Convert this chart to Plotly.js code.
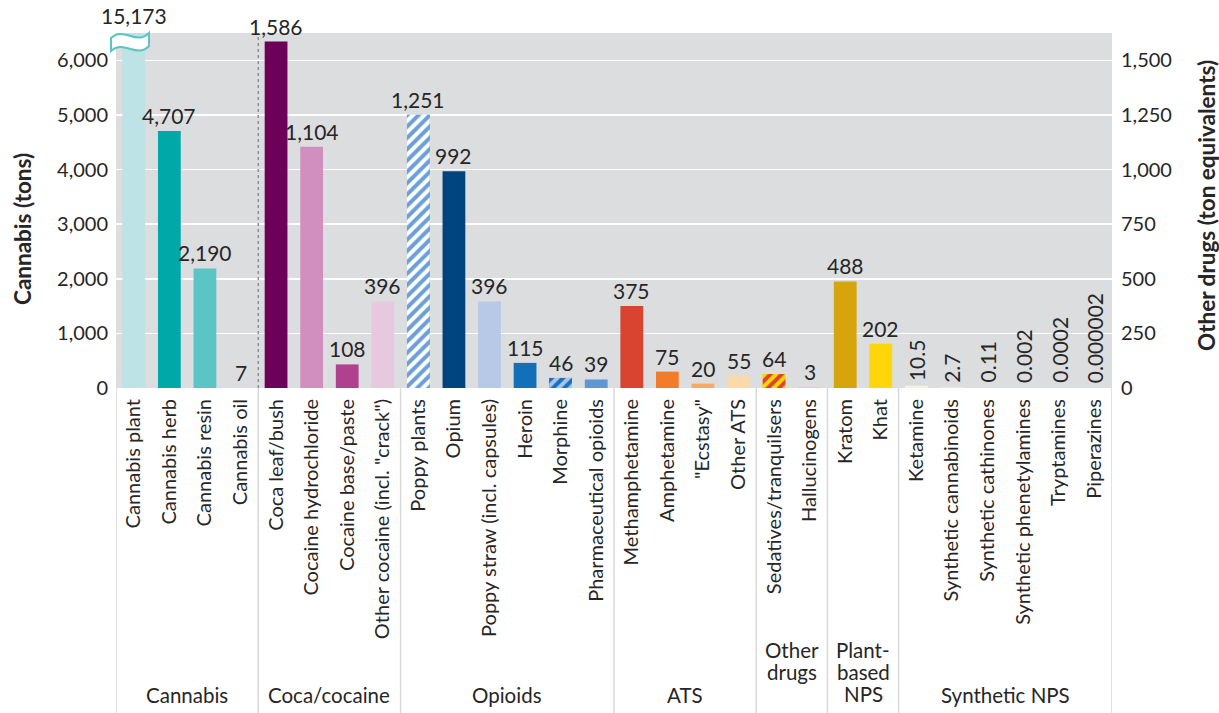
<!DOCTYPE html>
<html>
<head>
<meta charset="utf-8">
<script src="https://cdn.plot.ly/plotly-3.0.1.min.js"></script>
<style>html,body{margin:0;padding:0;background:#fff;}#chart{width:1219px;height:713px;}</style>
</head>
<body>
<div id="chart"></div>
<script>
// ---- data ----
const cannabisCategories = ["Cannabis plant", "Cannabis herb", "Cannabis resin", "Cannabis oil"];
const cannabisValues = [15173, 4707, 2190, 7];
const cannabisLabels = ["15,173", "4,707", "2,190", "7"];

const otherCategories = ["Coca leaf/bush", "Cocaine hydrochloride", "Cocaine base/paste", "Other cocaine (incl. \"crack\")",
  "Poppy plants", "Opium", "Poppy straw (incl. capsules)", "Heroin", "Morphine", "Pharmaceutical opioids",
  "Methamphetamine", "Amphetamine", "\"Ecstasy\"", "Other ATS",
  "Sedatives/tranquilsers", "Hallucinogens",
  "Kratom", "Khat",
  "Ketamine", "Synthetic cannabinoids", "Synthetic cathinones", "Synthetic phenetylamines", "Tryptamines", "Piperazines"];
const otherValues = [1586, 1104, 108, 396, 1251, 992, 396, 115, 46, 39, 375, 75, 20, 55, 64, 3, 488, 202, 10.5, 2.7, 0.11, 0.002, 0.0002, 0.000002];
const otherLabels = ["1,586", "1,104", "108", "396", "1,251", "992", "396", "115", "46", "39", "375", "75", "20", "55", "64", "3", "488", "202", "10.5", "2.7", "0.11", "0.002", "0.0002", "0.000002"];
const rotatedLabelCategories = ["Ketamine", "Synthetic cannabinoids", "Synthetic cathinones", "Synthetic phenetylamines", "Tryptamines", "Piperazines"];

const groupLabels = ["Cannabis", "Coca/cocaine", "Opioids", "ATS", "Other|drugs", "Plant-|based|NPS", "Synthetic NPS"];
const groupCounts = [4, 4, 6, 4, 2, 2, 6];

const categories = cannabisCategories.concat(otherCategories);

// ---- styles ----
const cannabisColors = ["#bde3e6", "#00a9a8", "#5bc4c4", "#bde3e6"];
const otherColors = ["#6d0058", "#d18fbf", "#b0418f", "#e6c9de",
  "#6a9fd8", "#00447f", "#b8c9e8", "#1270bb", "#1a6fbf", "#5e97d4",
  "#d94430", "#f37c2a", "#f7a865", "#fbd9ab",
  "#ffd700", "#ffd700",
  "#d6a40c", "#ffd60a",
  "#fbefd8", "#fbefd8", "#fbefd8", "#fbefd8", "#fbefd8", "#fbefd8"];
const hatchStyles = {
  "Poppy plants": {fg: "#6a9fd8", bg: "#ffffff"},
  "Morphine": {fg: "#1a6fbf", bg: "#a9c6ea"},
  "Sedatives/tranquilsers": {fg: "#d94430", bg: "#ffd700"}
};

const FONT = "Lato, 'Open Sans', sans-serif";
const TXT = "#262626";
const LEFT_MAX = 6500, RIGHT_MAX = 1625;
const BAR_W = 0.64;
const PLOT_L = 116, PLOT_R = 1112, PLOT_T = 33, PLOT_B = 388;
const PW = PLOT_R - PLOT_L, PH = PLOT_B - PLOT_T;
const px = x => (x - PLOT_L) / PW, py = y => (PLOT_B - y) / PH;

const traces = [
  {
    type: "bar", x: cannabisCategories, y: cannabisValues, yaxis: "y",
    width: BAR_W, marker: {color: cannabisColors, line: {width: 0}},
    hoverinfo: "x+y", showlegend: false
  },
  {
    type: "bar", x: otherCategories, y: otherValues, yaxis: "y2",
    width: BAR_W, marker: {color: otherColors, line: {width: 0}},
    hoverinfo: "x+y", showlegend: false
  }
];
// hatched bars drawn on top, from the same data
otherCategories.forEach((c, i) => {
  const h = hatchStyles[c];
  if (!h) return;
  traces.push({
    type: "bar", x: [c], y: [otherValues[i]], yaxis: "y2", width: BAR_W,
    marker: {color: h.bg, line: {width: 0},
      pattern: {shape: "/", fgcolor: h.fg, bgcolor: h.bg, size: 8, solidity: 0.5, fillmode: "replace"}},
    hoverinfo: "skip", showlegend: false
  });
});

const annotations = [];
cannabisCategories.forEach((c, i) => {
  annotations.push({x: c, y: Math.min(cannabisValues[i], LEFT_MAX), xref: "x", yref: "y",
    text: cannabisLabels[i], showarrow: false, yanchor: "bottom", yshift: cannabisValues[i] > LEFT_MAX ? 3 : 1,
    font: {family: FONT, size: 21, color: TXT}});
});
otherCategories.forEach((c, i) => {
  const rot = rotatedLabelCategories.includes(c);
  annotations.push({x: c, y: Math.min(otherValues[i], RIGHT_MAX), xref: "x", yref: "y2",
    text: otherLabels[i], showarrow: false, yanchor: "bottom", yshift: rot ? 3 : 1, textangle: rot ? -90 : 0,
    font: {family: FONT, size: 21, color: TXT}});
});

// axis titles
annotations.push({xref: "paper", yref: "paper", x: px(23), y: py(229), text: "<b>Cannabis (tons)</b>",
  textangle: -90, showarrow: false, xanchor: "center", yanchor: "middle", font: {family: FONT, size: 22.5, color: TXT}});
annotations.push({xref: "paper", yref: "paper", x: px(1206), y: py(206), text: "<b>Other drugs (ton equivalents)</b>",
  textangle: -90, showarrow: false, xanchor: "center", yanchor: "middle", font: {family: FONT, size: 22.5, color: TXT}});

// group labels and separators
const shapes = [];
let start = 0;
const bounds = [-0.5];
groupLabels.forEach((g, k) => {
  const end = start + groupCounts[k];
  const lines = g.split("|");
  lines.forEach((line, j) => {
    const yc = lines.length > 1 ? 650 + 22 * j : 695;
    annotations.push({xref: "x", yref: "paper", x: (start + end - 1) / 2, y: py(yc), yanchor: "middle",
      text: line, showarrow: false, align: "center", font: {family: FONT, size: 20.5, color: TXT}});
  });
  bounds.push(end - 0.5);
  start = end;
});
bounds.forEach(b => {
  shapes.push({type: "line", xref: "x", yref: "paper", x0: b, x1: b, y0: 0, y1: py(718),
    line: {color: "#d9d9d9", width: 1.5}, layer: "below"});
});
// dotted divider between cannabis and others
shapes.push({type: "line", xref: "x", yref: "paper", x0: bounds[1], x1: bounds[1], y0: 0, y1: 1,
  line: {color: "#8f8f8f", width: 1.5, dash: "dot"}, layer: "above"});

// axis-break symbol on the clipped cannabis plant bar
const brk = `M ${px(111)},${py(38)} C ${px(124)},${py(26)} ${px(136)},${py(46)} ${px(149)},${py(33)} L ${px(149)},${py(46)} C ${px(136)},${py(59)} ${px(124)},${py(39)} ${px(111)},${py(51)} Z`;
shapes.push({type: "path", xref: "paper", yref: "paper", path: brk, fillcolor: "#ffffff",
  line: {color: "#5bc4c4", width: 2}, layer: "above"});

const layout = {
  width: 1219, height: 713,
  margin: {l: PLOT_L, r: 1219 - PLOT_R, t: PLOT_T, b: 713 - PLOT_B, pad: 0},
  paper_bgcolor: "#ffffff", plot_bgcolor: "#dcdddf",
  barmode: "overlay",
  font: {family: FONT, size: 20, color: TXT},
  xaxis: {type: "category", categoryorder: "array", categoryarray: categories, range: [-0.5, categories.length - 0.5],
    tickangle: -90, tickfont: {family: FONT, size: 20, color: TXT}, ticks: "", showgrid: false, zeroline: false,
    showline: false, ticklabelstandoff: 6, fixedrange: true},
  yaxis: {range: [0, LEFT_MAX], dtick: 1000, tickformat: ",", gridcolor: "#ffffff", gridwidth: 1.5, zeroline: false,
    showline: false, ticks: "", tickfont: {family: FONT, size: 20, color: TXT}, ticklabelstandoff: 7},
  yaxis2: {range: [0, RIGHT_MAX], dtick: 250, tickformat: ",", overlaying: "y", side: "right", showgrid: false,
    zeroline: false, showline: false, ticks: "", tickfont: {family: FONT, size: 20, color: TXT}, ticklabelstandoff: 8},
  annotations: annotations,
  shapes: shapes
};

Plotly.newPlot("chart", traces, layout, {displayModeBar: false, staticPlot: true});
</script>
</body>
</html>
